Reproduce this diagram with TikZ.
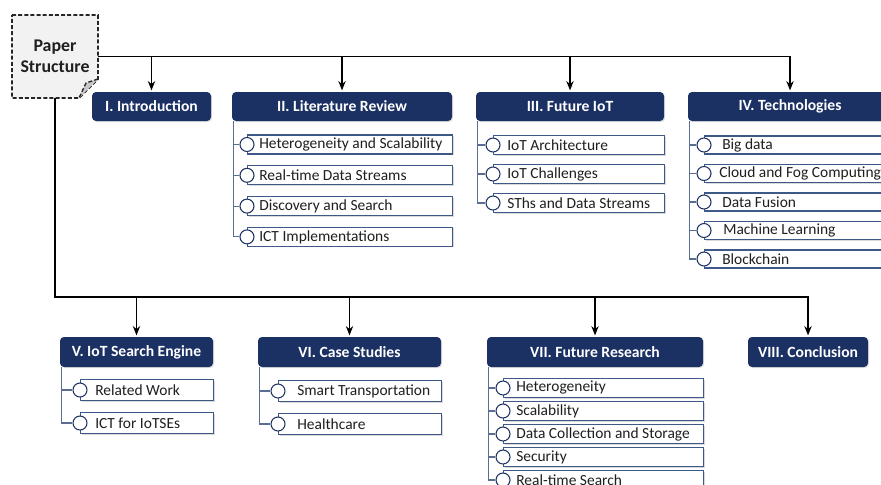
\documentclass[tikz,border=0pt]{standalone}
\usepackage{fontspec}
\setmainfont{Carlito}
\usetikzlibrary{arrows.meta,shadows,backgrounds}
\newcommand\pxu{0.75pt}
\definecolor{navy}{RGB}{27,48,99}
\definecolor{slate}{RGB}{62,88,135}
\definecolor{barline}{RGB}{90,110,148}
\definecolor{paperfill}{RGB}{242,242,242}
\definecolor{foldfill}{RGB}{200,200,200}

\tikzset{
  title/.style={fill=navy, rounded corners=3pt, text=white, inner sep=0pt,
    font=\bfseries\fontsize{11.7}{13}\selectfont, minimum height=29*\pxu,
    drop shadow={shadow xshift=0.8pt, shadow yshift=-0.8pt, opacity=0.25}},
  itembox/.style={draw=slate, line width=0.8pt, fill=white, inner sep=0pt,
    anchor=west, minimum height=19*\pxu,
    drop shadow={shadow xshift=0.8pt, shadow yshift=-0.8pt, opacity=0.3}},
  itemtext/.style={anchor=west, inner sep=0pt, text=black!88,
    font=\fontsize{11.6}{13}\selectfont},
  bullet/.style={circle, draw=navy, line width=0.8pt, fill=white,
    minimum size=14*\pxu, inner sep=0pt},
  tree/.style={draw=barline, line width=0.8pt},
  conn/.style={draw=black, line width=1.3pt},
  arr/.style={conn, -{Stealth[length=7pt, width=5.5pt]}, shorten >=1pt},
  paperline/.style={draw=black!85, line width=1.4pt, dash pattern=on 3pt off 1.6pt},
}

\begin{document}
\begin{tikzpicture}[x=0.75pt, y=-0.75pt]
\useasboundingbox (0,0) rectangle (881,485);
\clip (0,0) rectangle (881,485);

% root note with folded corner
\node[minimum width=86*\pxu, minimum height=83*\pxu, inner sep=0pt, align=center,
      font=\bfseries\fontsize{13.4}{15.5}\selectfont, text=black!88] (paper) at (55,56.5) {Paper\\Structure};
\begin{scope}[on background layer]
  \draw[paperline, fill=paperfill] (12,15) -- (98,15) -- (98,79) -- (79,98) -- (12,98) -- cycle;
  \draw[paperline, line width=1pt, fill=foldfill] (98,79) -- (86,83) -- (79,98);
\end{scope}

% section headings
\node[title, minimum width=119*\pxu] (intro) at (151.5,106.5) {I. Introduction};
\node[title, minimum width=220*\pxu] (lit)   at (342,106.5)   {II. Literature Review};
\node[title, minimum width=188*\pxu] (fiot)  at (570,106.5)   {III. Future IoT};
\node[title, minimum width=204*\pxu] (tech)  at (790,106.5)   {IV. Technologies};
\node[title, minimum width=153*\pxu, minimum height=30*\pxu] (se)   at (136.5,352) {V. IoT Search Engine};
\node[title, minimum width=183*\pxu, minimum height=30*\pxu] (cs)   at (349.5,352) {VI. Case Studies};
\node[title, minimum width=216*\pxu, minimum height=30*\pxu] (fr)   at (595,352)   {VII. Future Research};
\node[title, minimum width=120*\pxu, minimum height=30*\pxu] (conc) at (808,352)   {VIII. Conclusion};

% connectors from the root
\draw[arr] (paper.east) -| (tech.north);
\foreach \n in {intro,lit,fiot} \draw[arr] (paper.east -| \n.north) -- (\n.north);
\coordinate (busB) at (55,297);
\draw[arr] (paper.south) -- (busB) -| (conc.north);
\foreach \n in {se,cs,fr} \draw[arr] (busB -| \n.north) -- (\n.north);

% sub-topic lists
\coordinate (litbar)  at ([xshift=1.5*\pxu]lit.south west);
\coordinate (fiotbar) at ([xshift=1.5*\pxu]fiot.south west);
\coordinate (techbar) at ([xshift=1.5*\pxu]tech.south west);
\coordinate (sebar)   at ([xshift=1.5*\pxu]se.south west);
\coordinate (csbar)   at ([xshift=1.5*\pxu]cs.south west);
\coordinate (frbar)   at ([xshift=1.5*\pxu]fr.south west);

\foreach \t [count=\i] in {Heterogeneity and Scalability, Real-time Data Streams, Discovery and Search, ICT Implementations} {
  \pgfmathsetmacro\yy{144.5+30.8*(\i-1)}
  \node[itembox, minimum width=205*\pxu] (lr\i) at (247,\yy) {};
  \node[itemtext] (lrt\i) at ([xshift=12*\pxu]lr\i.west) {\t};
  \node[bullet] (lrc\i) at (lr\i.west) {};
  \draw[tree] (lrc\i.west) -- (lrc\i.west -| litbar);
}
\draw[tree] (litbar) |- (lrc4.west);

\foreach \t [count=\i] in {IoT Architecture, IoT Challenges, SThs and Data Streams} {
  \pgfmathsetmacro\yy{145+29*(\i-1)}
  \node[itembox, minimum width=171*\pxu] (fi\i) at (493,\yy) {};
  \node[itemtext] (fit\i) at ([xshift=14*\pxu]fi\i.west) {\t};
  \node[bullet] (fic\i) at (fi\i.west) {};
  \draw[tree] (fic\i.west) -- (fic\i.west -| fiotbar);
}
\draw[tree] (fiotbar) |- (fic3.west);

\foreach \t/\o [count=\i] in {Big data/18, Cloud and Fog Computing/15, Data Fusion/18, Machine Learning/19, Blockchain/18} {
  \pgfmathsetmacro\yy{145+28.5*(\i-1)}
  \node[itembox, minimum width=188*\pxu, minimum height=18*\pxu] (te\i) at (704,\yy) {};
  \node[itemtext] (tet\i) at ([xshift=\o*\pxu]te\i.west) {\t};
  \node[bullet] (tec\i) at (te\i.west) {};
  \draw[tree] (tec\i.west) -- (tec\i.west -| techbar);
}
\draw[tree] (techbar) |- (tec5.west);

\foreach \t [count=\i] in {Related Work, ICT for IoTSEs} {
  \pgfmathsetmacro\yy{390+33*(\i-1)}
  \node[itembox, minimum width=133*\pxu, minimum height=21*\pxu] (sx\i) at (80,\yy) {};
  \node[itemtext] (sxt\i) at ([xshift=15*\pxu]sx\i.west) {\t};
  \node[bullet] (sxc\i) at (sx\i.west) {};
  \draw[tree] (sxc\i.west) -- (sxc\i.west -| sebar);
}
\draw[tree] (sebar) |- (sxc2.west);

\foreach \t [count=\i] in {Smart Transportation, Healthcare} {
  \pgfmathsetmacro\yy{391+33*(\i-1)}
  \node[itembox, minimum width=163*\pxu, minimum height=21*\pxu] (cx\i) at (278,\yy) {};
  \node[itemtext] (cxt\i) at ([xshift=19*\pxu]cx\i.west) {\t};
  \node[bullet] (cxc\i) at (cx\i.west) {};
  \draw[tree] (cxc\i.west) -- (cxc\i.west -| csbar);
}
\draw[tree] (csbar) |- (cxc2.west);

\foreach \t [count=\i] in {Heterogeneity, Scalability, Data Collection and Storage, Security, Real-time Search} {
  \pgfmathsetmacro\yy{388+23*(\i-1)}
  \node[itembox, minimum width=200*\pxu, minimum height=19*\pxu] (rx\i) at (503,\yy) {};
  \node[itemtext] (rxt\i) at ([xshift=13*\pxu]rx\i.west) {\t};
  \node[bullet] (rxc\i) at (rx\i.west) {};
  \draw[tree] (rxc\i.west) -- (rxc\i.west -| frbar);
}
\draw[tree] (frbar) |- (rxc5.west);
\end{tikzpicture}
\end{document}
